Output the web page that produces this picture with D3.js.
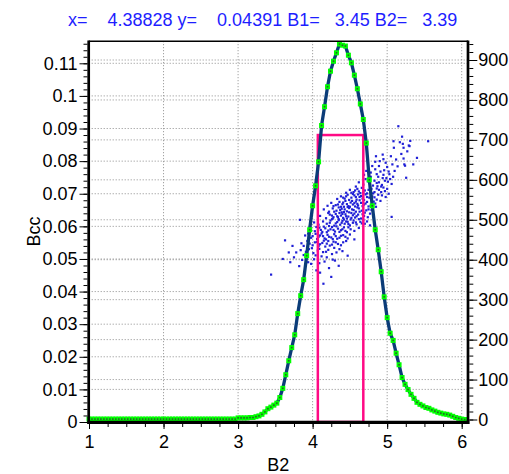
<!DOCTYPE html>
<html>
<head>
<meta charset="utf-8">
<script src="https://cdn.jsdelivr.net/npm/d3@7"></script>
<style>
  html, body { margin: 0; padding: 0; background: #fff; }
  svg { display: block; font-family: Arial, "Liberation Sans", sans-serif; }
</style>
</head>
<body>
<svg id="chart" width="509" height="474"></svg>
<script>
// header line
const titleText = "x=    4.38828 y=    0.04391 B1=   3.45 B2=   3.39";

// tick labels
const xTicks = [1, 2, 3, 4, 5, 6];
const leftTicks = [0, 0.01, 0.02, 0.03, 0.04, 0.05, 0.06, 0.07, 0.08, 0.09, 0.1, 0.11];
const rightTicks = [0, 100, 200, 300, 400, 500, 600, 700, 800, 900];

// histogram of B2 (counts on right axis)
const binX = [
  1.00,1.04,1.08,1.12,1.16,1.20,1.24,1.28,1.32,1.36,
  1.40,1.44,1.48,1.52,1.56,1.60,1.64,1.68,1.72,1.76,
  1.80,1.84,1.88,1.92,1.96,2.00,2.04,2.08,2.12,2.16,
  2.20,2.24,2.28,2.32,2.36,2.40,2.44,2.48,2.52,2.56,
  2.60,2.64,2.68,2.72,2.76,2.80,2.84,2.88,2.92,2.96,
  3.00,3.04,3.08,3.12,3.16,3.20,3.24,3.28,3.32,3.36,
  3.40,3.44,3.48,3.52,3.56,3.60,3.64,3.68,3.72,3.76,
  3.80,3.84,3.88,3.92,3.96,4.00,4.04,4.08,4.12,4.16,
  4.20,4.24,4.28,4.32,4.36,4.40,4.44,4.48,4.52,4.56,
  4.60,4.64,4.68,4.72,4.76,4.80,4.84,4.88,4.92,4.96,
  5.00,5.04,5.08,5.12,5.16,5.20,5.24,5.28,5.32,5.36,
  5.40,5.44,5.48,5.52,5.56,5.60,5.64,5.68,5.72,5.76,
  5.80,5.84,5.88,5.92,5.96,6.00,6.04
];
const binCount = [
  1,1,1,1,1,1,1,1,1,1,
  1,1,1,1,1,1,1,1,1,1,
  1,1,1,1,1,1,1,1,1,1,
  1,1,1,1,1,1,1,1,1,1,
  1,1,1,1,1,1,1,1,1,1,
  4,4,4,4,5,5,7,9,13,19,
  27,31,36,41,55,78,112,147,180,212,
  265,310,350,410,475,535,585,645,736,783,
  833,872,897,918,940,937,935,912,893,862,
  828,790,751,692,600,535,475,425,370,307,
  255,216,198,166,137,105,88,75,63,53,
  43,38,34,30,28,24,21,18,16,14,
  13,11,8,5,3,1,0
];

// gate rectangle
const gateX = [4.07, 4.68];
const gateTop = 0.088;

// B2 vs Bcc events (left axis)
const events = [
  [5.15,0.0907],[5.20,0.0875],[5.085,0.0861],[5.17,0.0858],[5.55,0.0861],[5.21,0.0853],[5.29,0.0848],[5.30,0.0846],[5.09,0.0841],[5.22,0.0841],
  [4.85,0.0815],[4.94,0.0820],[5.05,0.0815],[5.22,0.0808],[5.23,0.0790],[5.35,0.0790],[5.24,0.0786],[4.90,0.0800],[4.98,0.0795],[5.12,0.0805],[4.80,0.0785],[5.00,0.0782],
  [4.72,0.0770],[4.78,0.0765],[4.84,0.0775],[4.91,0.0768],[4.96,0.0772],[5.03,0.0760],[5.10,0.0770],[5.255,0.0749],[4.88,0.0752],[4.75,0.0745],[4.69,0.0758],[4.99,0.0748],
  [4.62,0.0735],[4.68,0.0728],[4.74,0.0738],[4.81,0.0725],[4.86,0.0733],[4.92,0.0722],[4.97,0.0740],[4.58,0.0722],[4.77,0.0720],[5.06,0.0730],
  [4.50,0.0712],[4.55,0.0705],[4.60,0.0715],[4.64,0.0702],[4.70,0.0710],[4.73,0.0701],[4.79,0.0715],[4.83,0.0705],[4.97,0.0708],[4.89,0.0712],[4.45,0.0703],[4.66,0.0718],
  [4.38,0.0692],[4.43,0.0685],[4.47,0.0697],[4.52,0.0688],[4.56,0.0695],[4.59,0.0682],[4.63,0.0690],[4.67,0.0685],[4.71,0.0698],[4.76,0.0688],[4.80,0.0692],[4.86,0.0682],[4.93,0.0695],[4.33,0.0684],
  [4.25,0.0672],[4.31,0.0665],[4.36,0.0675],[4.40,0.0668],[4.44,0.0678],[4.48,0.0662],[4.51,0.0673],[4.54,0.0667],[4.58,0.0676],[4.61,0.0664],[4.65,0.0672],[4.69,0.0667],[4.73,0.0675],[4.78,0.0663],[4.84,0.0670],[4.42,0.0660],[4.57,0.0661],[4.20,0.0663],
  [4.15,0.0652],[4.22,0.0645],[4.27,0.0655],[4.32,0.0648],[4.35,0.0658],[4.39,0.0643],[4.43,0.0652],[4.46,0.0646],[4.49,0.0656],[4.52,0.0641],[4.55,0.0650],[4.58,0.0645],[4.62,0.0655],[4.66,0.0648],[4.70,0.0642],[4.75,0.0652],[4.81,0.0646],[4.47,0.0659],[4.37,0.0650],[4.60,0.0658],
  [4.10,0.0632],[4.18,0.0625],[4.23,0.0636],[4.28,0.0628],[4.31,0.0638],[4.35,0.0622],[4.38,0.0633],[4.41,0.0626],[4.44,0.0637],[4.48,0.0630],[4.51,0.0621],[4.54,0.0634],[4.57,0.0627],[4.61,0.0636],[4.65,0.0624],[4.69,0.0632],[4.74,0.0628],[5.06,0.0629],[4.26,0.0622],[4.46,0.0624],[4.40,0.0638],
  [4.02,0.0612],[3.83,0.0620],[4.08,0.0605],[4.14,0.0615],[4.19,0.0608],[4.24,0.0618],[4.29,0.0602],[4.33,0.0613],[4.37,0.0605],[4.40,0.0617],[4.43,0.0608],[4.47,0.0614],[4.50,0.0603],[4.54,0.0611],[4.59,0.0606],[4.64,0.0614],[4.70,0.0608],[4.22,0.0601],[4.35,0.0619],
  [3.96,0.0592],[4.03,0.0585],[4.09,0.0596],[4.13,0.0583],[4.17,0.0594],[4.21,0.0587],[4.26,0.0598],[4.30,0.0584],[4.34,0.0593],[4.38,0.0588],[4.42,0.0597],[4.46,0.0582],[4.51,0.0591],[4.56,0.0586],[4.62,0.0595],
  [3.90,0.0572],[3.98,0.0565],[4.04,0.0577],[4.08,0.0568],[4.12,0.0578],[4.16,0.0563],[4.20,0.0574],[4.25,0.0566],[4.29,0.0576],[4.33,0.0562],[4.38,0.0571],[4.44,0.0568],[4.50,0.0575],[3.63,0.0557],[4.56,0.0560],
  [3.85,0.0548],[3.93,0.0555],[4.00,0.0542],[4.06,0.0552],[4.10,0.0545],[4.15,0.0556],[4.19,0.0547],[4.23,0.0541],[4.28,0.0553],[4.34,0.0546],[4.41,0.0551],
  [3.78,0.0520],[3.88,0.0512],[3.95,0.0530],[4.01,0.0518],[4.07,0.0526],[4.12,0.0508],[4.18,0.0522],[4.26,0.0515],[4.36,0.0530],[4.47,0.0510],[3.92,0.0502],
  [3.70,0.0490],[3.82,0.0478],[3.98,0.0485],[4.05,0.0465],[4.16,0.0492],[4.22,0.0472],[4.35,0.0479],[4.30,0.0495],[3.443,0.0452],[4.10,0.0458],
  [4.145,0.0424],[4.25,0.0445],
  [4.21,0.0641],[4.26,0.0633],[4.29,0.0645],[4.33,0.0631],[4.36,0.0641],[4.39,0.0654],[4.42,0.0644],[4.45,0.0631],[4.49,0.0643],[4.53,0.0652],[4.56,0.0639],[4.59,0.0631],[4.63,0.0645],[4.67,0.0637],[4.72,0.0649],[4.77,0.0639],
  [4.23,0.0611],[4.27,0.0624],[4.31,0.0609],[4.34,0.0628],[4.39,0.0611],[4.42,0.0621],[4.45,0.0615],[4.48,0.0607],[4.52,0.0626],[4.55,0.0618],[4.58,0.0612],[4.62,0.0622],[4.66,0.0609],[4.68,0.0619],
  [4.28,0.0662],[4.34,0.0667],[4.38,0.0660],[4.41,0.0673],[4.46,0.0668],[4.50,0.0660],[4.53,0.0678],[4.56,0.0671],[4.60,0.0669],[4.63,0.0680],[4.67,0.0662],[4.71,0.0670],[4.75,0.0661],[4.82,0.0676],
  [4.41,0.0688],[4.45,0.0692],[4.49,0.0681],[4.54,0.0699],[4.58,0.0690],[4.61,0.0698],[4.65,0.0693],[4.69,0.0681],[4.73,0.0690],[4.78,0.0698],[4.83,0.0689],[4.88,0.0697],
  [4.52,0.0703],[4.57,0.0710],[4.62,0.0707],[4.68,0.0704],[4.75,0.0712],[4.81,0.0701],[4.86,0.0716],[4.92,0.0705],[4.95,0.0719],
  [4.05,0.0598],[4.11,0.0589],[4.15,0.0599],[4.19,0.0582],[4.24,0.0591],[4.28,0.0589],[4.32,0.0600],[4.36,0.0583],[4.40,0.0591],[4.44,0.0586],[4.48,0.0597],
  [3.94,0.0578],[4.00,0.0570],[4.06,0.0561],[4.10,0.0572],[4.14,0.0570],[4.18,0.0560],[4.22,0.0568],[4.27,0.0561],[4.31,0.0570],[4.36,0.0565],[4.41,0.0573],[4.47,0.0563],
  [3.88,0.0540],[3.96,0.0547],[4.03,0.0551],[4.08,0.0540],[4.13,0.0549],[4.17,0.0538],[4.21,0.0555],[4.26,0.0544],[4.31,0.0551],[4.38,0.0542],[4.45,0.0555],
  [3.84,0.0527],[3.91,0.0522],[3.99,0.0533],[4.04,0.0511],[4.09,0.0531],[4.14,0.0521],[4.21,0.0528],[4.29,0.0534],[4.32,0.0520],[4.40,0.0524],
  [3.75,0.0505],[3.86,0.0497],[3.94,0.0490],[4.02,0.0499],[4.09,0.0487],[4.19,0.0505],[4.27,0.0498],[3.60,0.0500],[3.68,0.0520],[3.73,0.0540],
  [4.83,0.0740],[4.89,0.0735],[4.94,0.0748],[5.01,0.0737],[4.78,0.0752],[4.86,0.0760],[4.95,0.0758],[5.04,0.0745],[5.08,0.0752],[4.71,0.0745],
  [4.93,0.0727],[5.00,0.0715],[4.87,0.0723],[4.98,0.0690],[5.02,0.0700],[4.91,0.0678],[4.85,0.0660],[4.79,0.0650],[4.73,0.0615],[4.77,0.0603],
  [4.89,0.0785],[4.95,0.0806],[5.07,0.0790],[5.14,0.0784],[5.19,0.0822],[5.27,0.0830],[5.31,0.0862],[5.40,0.0810],[4.84,0.0798],[5.02,0.0768]
];

const plot = {left: 88.7, right: 468, top: 41.2, bottom: 422.3};
const svg = d3.select("#chart");

const x = d3.scaleLinear().domain([1, 6]).range([89, 461.7]);
const yL = d3.scaleLinear().domain([0, 0.11]).range([422, 63.3]);
const yR = d3.scaleLinear().domain([0, 900]).range([419.5, 60]);

// grid
const grid = svg.append("g")
  .attr("stroke", "#8c8c8c")
  .attr("stroke-width", 1)
  .attr("stroke-dasharray", "1,2");
grid.selectAll(".gv").data(xTicks.slice(1)).join("line")
  .attr("x1", d => x(d)).attr("x2", d => x(d))
  .attr("y1", plot.top).attr("y2", plot.bottom);
grid.selectAll(".gl").data(leftTicks.slice(1)).join("line")
  .attr("x1", plot.left).attr("x2", plot.right)
  .attr("y1", d => yL(d)).attr("y2", d => yL(d));
grid.selectAll(".gr").data(rightTicks.slice(1)).join("line")
  .attr("x1", plot.left).attr("x2", plot.right)
  .attr("y1", d => yR(d)).attr("y2", d => yR(d));

// scatter
svg.append("g").selectAll("rect").data(events).join("rect")
  .attr("x", d => x(d[0]) - 1.1)
  .attr("y", d => yL(d[1]) - 1.1)
  .attr("width", 2.2).attr("height", 2.2)
  .attr("fill", "#1f1fd6");

// gate
svg.append("rect")
  .attr("x", x(gateX[0]))
  .attr("y", yL(gateTop))
  .attr("width", x(gateX[1]) - x(gateX[0]))
  .attr("height", yL(0) - yL(gateTop))
  .attr("fill", "none")
  .attr("stroke", "#ff0a85")
  .attr("stroke-width", 2.5);

// histogram curve
const hist = binX.map((b, i) => [b, binCount[i]]);
svg.append("path")
  .datum(hist)
  .attr("fill", "none")
  .attr("stroke", "#0b3c78")
  .attr("stroke-width", 3.3)
  .attr("d", d3.line().x(d => x(d[0])).y(d => yR(d[1])));

const marks = svg.append("g");
marks.selectAll(".m").data(hist).join("rect")
  .attr("x", d => x(d[0]) - 2.5)
  .attr("y", d => yR(d[1]) - 2.5)
  .attr("width", 5).attr("height", 5)
  .attr("fill", "#00ff00");
marks.selectAll(".c").data(hist).join("rect")
  .attr("x", d => x(d[0]) - 0.8)
  .attr("y", d => yR(d[1]) - 0.8)
  .attr("width", 1.6).attr("height", 1.6)
  .attr("fill", "#2b5d2b");

// axes
function styleAxis(g) {
  g.select(".domain").remove();
  g.selectAll("text").attr("font-size", 18).attr("fill", "#000")
    .attr("font-family", "Arial, 'Liberation Sans', sans-serif");
  g.selectAll("line").attr("stroke", "#000");
}

svg.append("g").attr("transform", "translate(87.5,0)")
  .call(d3.axisLeft(yL).tickValues(d3.range(0, 0.1161, 0.002)).tickSize(4).tickFormat(""))
  .call(styleAxis);
svg.append("g").attr("transform", "translate(87.5,0)")
  .call(d3.axisLeft(yL).tickValues(leftTicks).tickSize(8).tickPadding(2).tickFormat(d => String(d)))
  .call(styleAxis);

svg.append("g").attr("transform", "translate(469.3,0)")
  .call(d3.axisRight(yR).tickValues(d3.range(0, 941, 20)).tickSize(4).tickFormat(""))
  .call(styleAxis);
svg.append("g").attr("transform", "translate(469.3,0)")
  .call(d3.axisRight(yR).tickValues(rightTicks).tickSize(8).tickPadding(1).tickFormat(d => String(d)))
  .call(styleAxis);

svg.append("g").attr("transform", "translate(0,424)")
  .call(d3.axisBottom(x).tickValues(d3.range(1, 6.01, 0.25)).tickSize(3).tickFormat(""))
  .call(styleAxis);
svg.append("g").attr("transform", "translate(0,424)")
  .call(d3.axisBottom(x).tickValues(xTicks).tickSize(5).tickPadding(6.5).tickFormat(d => String(d)))
  .call(styleAxis);

// frame
svg.append("line").attr("x1", plot.left).attr("x2", plot.right)
  .attr("y1", plot.top).attr("y2", plot.top)
  .attr("stroke", "#000").attr("stroke-width", 1.5);
svg.append("line").attr("x1", plot.left).attr("x2", plot.left)
  .attr("y1", plot.top - 0.7).attr("y2", 424)
  .attr("stroke", "#000").attr("stroke-width", 2.7);
svg.append("line").attr("x1", plot.right).attr("x2", plot.right)
  .attr("y1", plot.top - 0.7).attr("y2", 424)
  .attr("stroke", "#000").attr("stroke-width", 2.7);
svg.append("line").attr("x1", 87.3).attr("x2", 469.4)
  .attr("y1", plot.bottom).attr("y2", plot.bottom)
  .attr("stroke", "#000").attr("stroke-width", 3.2);

// labels
svg.append("text")
  .attr("x", 68).attr("y", 26)
  .attr("font-size", 18)
  .attr("fill", "#1e1eff")
  .style("white-space", "pre")
  .text(titleText);

svg.append("text")
  .attr("x", (plot.left + plot.right) / 2).attr("y", 471)
  .attr("text-anchor", "middle")
  .attr("font-size", 18)
  .text("B2");

svg.append("text")
  .attr("transform", "translate(39.5,231.5) rotate(-90)")
  .attr("text-anchor", "middle")
  .attr("font-size", 18)
  .text("Bcc");
</script>
</body>
</html>
